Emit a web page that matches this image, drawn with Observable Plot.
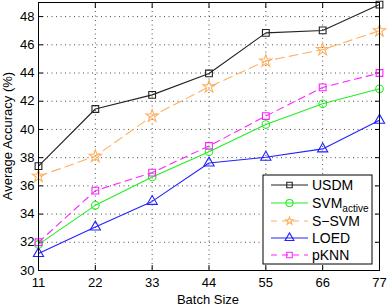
<!DOCTYPE html>
<html><head><meta charset="utf-8">
<script src="https://cdn.jsdelivr.net/npm/d3@7"></script>
<script src="https://cdn.jsdelivr.net/npm/@observablehq/plot@0.6"></script>
<style>body{margin:0;background:#fff}#c{position:relative;width:388px;height:308px}</style>
</head><body><div id="c"></div>
<script>
const batchSizes = [11, 22, 33, 44, 55, 66, 77];
const usdm   = [37.4, 41.45, 42.45, 43.97, 46.85, 47.02, 48.85];
const svmAct = [31.85, 34.62, 36.63, 38.42, 40.35, 41.82, 42.88];
const ssvm   = [36.68, 38.1, 40.95, 43.02, 44.85, 45.66, 47.0];
const loed   = [31.2, 33.08, 34.9, 37.62, 38.03, 38.62, 40.65];
const pknn   = [32.0, 35.66, 36.94, 38.83, 40.95, 42.98, 44.0];
const yTicks = [30, 32, 34, 36, 38, 40, 42, 44, 46, 48];

const series = [
  {name: "USDM", sub: "", values: usdm, color: "#222222", symbol: "square", dash: null},
  {name: "SVM", sub: "active", values: svmAct, color: "#22ee22", symbol: "circle", dash: null},
  {name: "S\u2212SVM", sub: "", values: ssvm, color: "#ffb060", symbol: "star", dash: "9,5"},
  {name: "LOED", sub: "", values: loed, color: "#2222ff", symbol: "triangle", dash: null},
  {name: "pKNN", sub: "", values: pknn, color: "#ff22ff", symbol: "square", dash: "7,5"}
];
const rows = series.flatMap(s => s.values.map((v, i) => ({x: batchSizes[i], y: v, s: s.name})));

const marks = [
  Plot.gridY(yTicks, {stroke: "#000", strokeOpacity: 0.7, strokeDasharray: "1,3.5"}),
  Plot.gridX(batchSizes, {stroke: "#000", strokeOpacity: 0.7, strokeDasharray: "1,3.5"}),
  Plot.axisX(batchSizes, {anchor: "bottom", tickSize: -5, tickPadding: 12, label: null, fontSize: 13}),
  Plot.axisX(batchSizes, {anchor: "top", tickSize: -5, tickFormat: () => "", label: null}),
  Plot.axisY(yTicks, {anchor: "left", tickSize: -5, tickPadding: 9, label: null, fontSize: 13}),
  Plot.axisY(yTicks, {anchor: "right", tickSize: -5, tickFormat: () => "", label: null}),
];
for (const s of series) {
  const d = rows.filter(r => r.s === s.name);
  marks.push(Plot.line(d, {x: "x", y: "y", stroke: s.color, strokeWidth: 1.1, strokeDasharray: s.dash}));
  marks.push(Plot.dot(d, {x: "x", y: "y", stroke: s.color, fill: "none", symbol: s.symbol, r: s.symbol === "star" ? 3.9 : 3.8, strokeWidth: 1.1}));
}
marks.push(Plot.frame({stroke: "#000", strokeWidth: 1}));

const chart = Plot.plot({
  width: 388, height: 308,
  marginLeft: 38, marginRight: 9, marginTop: 2, marginBottom: 38,
  x: {domain: [11, 77]},
  y: {domain: [30, 49]},
  style: {fontFamily: "Liberation Sans, Arial, sans-serif", fontSize: "13px", color: "#000", background: "#fff"},
  marks
});
document.getElementById("c").appendChild(chart);

const svg = d3.select(chart);
const ff = "Liberation Sans, Arial, sans-serif";
svg.append("text").attr("x", 208).attr("y", 304).attr("text-anchor", "middle")
  .attr("font-family", ff).attr("font-size", 13).text("Batch Size");
svg.append("text").attr("transform", "translate(12,136) rotate(-90)").attr("text-anchor", "middle")
  .attr("font-family", ff).attr("font-size", 13).text("Average Accuracy (%)");

// legend
const lg = svg.append("g");
lg.append("rect").attr("x", 263).attr("y", 175).attr("width", 109).attr("height", 89)
  .attr("fill", "#fff").attr("stroke", "#000").attr("stroke-width", 1);
const ys = [185, 203, 221, 238, 255];
const sym = {square: d3.symbolSquare, circle: d3.symbolCircle, star: d3.symbolStar, triangle: d3.symbolTriangle};
series.forEach((s, i) => {
  const y = ys[i];
  lg.append("line").attr("x1", 271).attr("x2", 308).attr("y1", y).attr("y2", y)
    .attr("stroke", s.color).attr("stroke-width", 1.1).attr("stroke-dasharray", s.dash ? "6,5" : null);
  const size = s.symbol === "star" ? 18 : s.symbol === "circle" ? 40 : s.symbol === "triangle" ? 34 : 30;
  lg.append("path").attr("d", d3.symbol(sym[s.symbol], size)()).attr("transform", `translate(289.5,${y})`)
    .attr("fill", s.symbol === "star" ? "#fff" : "none").attr("stroke", s.color).attr("stroke-width", 1.1);
  const t = lg.append("text").attr("x", 312).attr("y", y + 5).attr("text-anchor", "start")
    .attr("font-family", ff).attr("font-size", 14).text(s.name);
  if (s.sub) t.append("tspan").attr("font-size", 10).attr("dy", 4).text(s.sub);
});
</script></body></html>
